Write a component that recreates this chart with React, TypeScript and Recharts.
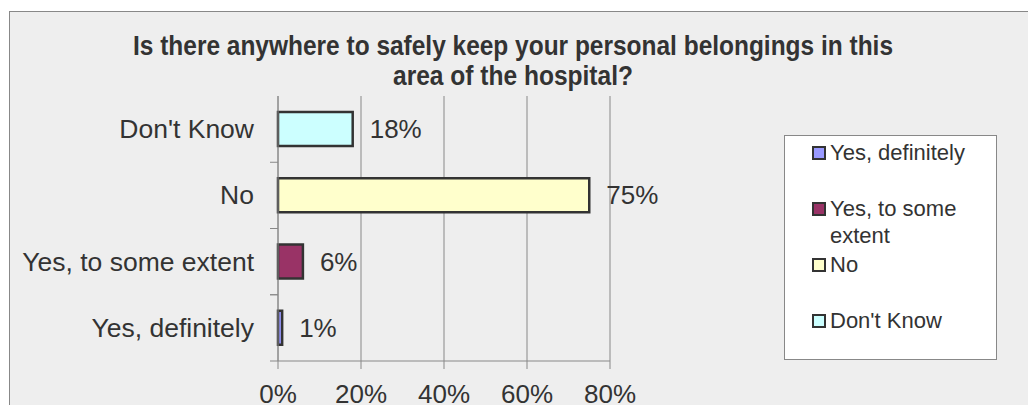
import React from 'react'
import { BarChart, Bar, XAxis, YAxis, CartesianGrid, Cell, LabelList, Legend } from 'recharts'

const categories = ['Yes, definitely', 'Yes, to some extent', 'No', "Don't Know"]
const values = [0.01, 0.06, 0.75, 0.18]
const colors = ['#9999ff', '#993366', '#ffffcc', '#ccffff']
const xTicks = [0, 0.2, 0.4, 0.6, 0.8]
const titleLines = ['Is there anywhere to safely keep your personal belongings in this', 'area of the hospital?']

const data = categories.map((name, i) => ({ name, value: values[i] }))

const W = 1028
const H = 405
const TOP = 96
const XAXIS_H = 44
const YAXIS_W = 278
const band = (H - TOP - XAXIS_H) / categories.length
const FONT = '"Liberation Sans", Arial, sans-serif'
const pct = (v: number) => `${Math.round(v * 100)}%`

function CategoryTick(props: any) {
  const { x, y, payload, index } = props
  return (
    <g>
      <text x={x - 24} y={y} textAnchor="end" dominantBaseline="central" fontSize={26.5} fill="#333" fontFamily={FONT}>
        {payload.value}
      </text>
      <line x1={x - 8} x2={x} y1={y + band / 2} y2={y + band / 2} stroke="#888" />
      {index === 0 && <line x1={x - 8} x2={x} y1={y - band / 2} y2={y - band / 2} stroke="#888" />}
    </g>
  )
}

function LegendBox() {
  return (
    <div style={{ width: 213, height: 225, boxSizing: 'border-box', border: '1px solid #888', background: '#fff', paddingTop: 3 }}>
      {categories.map((c, i) => (
        <div key={c} style={{ height: 56, display: 'flex', alignItems: 'flex-start', paddingLeft: 27 }}>
          <span style={{ width: 10, height: 10, border: '2px solid #333', background: colors[i], marginTop: 7, marginRight: 4, flexShrink: 0 }} />
          <span style={{ width: 150, fontSize: 22, lineHeight: '27px', color: '#333', fontFamily: FONT }}>{c}</span>
        </div>
      ))}
    </div>
  )
}

export default function App() {
  return (
    <div style={{ position: 'relative', width: W, height: H, overflow: 'hidden', background: '#fff' }}>
      <style>{'html,body{margin:0;padding:0;overflow:hidden}'}</style>
      <div style={{ position: 'absolute', left: 9, top: 11, right: 0, bottom: 0, borderLeft: '1px solid #888', borderTop: '1px solid #888', background: '#eeeeee' }} />
      <svg style={{ position: 'absolute', left: 0, top: 0 }} width={W} height={H}>
        <text x={513} y={54.5} textAnchor="middle" fontSize={27} fontWeight="bold" fill="#333" fontFamily={FONT} textLength={760} lengthAdjust="spacingAndGlyphs">
          {titleLines[0]}
        </text>
        <text x={513} y={85} textAnchor="middle" fontSize={27} fontWeight="bold" fill="#333" fontFamily={FONT} textLength={240} lengthAdjust="spacingAndGlyphs">
          {titleLines[1]}
        </text>
      </svg>
      <div style={{ position: 'absolute', left: 0, top: 0 }}>
        <BarChart width={W} height={H} data={data} layout="vertical" margin={{ top: TOP, right: 418, bottom: 0, left: 0 }} barCategoryGap="24%">
          <CartesianGrid horizontal={false} stroke="#888" />
          <XAxis
            type="number"
            domain={[0, 0.8]}
            ticks={xTicks}
            tickFormatter={pct}
            height={XAXIS_H}
            stroke="#888"
            tickSize={8}
            tickMargin={16}
            tick={{ fontSize: 26, fill: '#333', fontFamily: FONT }}
          />
          <YAxis type="category" dataKey="name" width={YAXIS_W} reversed stroke="#888" tickLine={false} tickSize={0} tickMargin={0} tick={<CategoryTick />} />
          <Legend layout="horizontal" verticalAlign="middle" align="center" content={() => <LegendBox />} wrapperStyle={{ position: 'absolute', left: 784, top: 135, width: 213, height: 225 }} />
          <Bar dataKey="value" stroke="#333" strokeWidth={2.5} isAnimationActive={false}>
            {data.map((d, i) => (
              <Cell key={d.name} fill={colors[i]} />
            ))}
            <LabelList dataKey="value" position="right" offset={17} formatter={(v: any) => pct(Number(v))} fontSize={26} fill="#333" fontFamily={FONT} />
          </Bar>
        </BarChart>
      </div>
    </div>
  )
}
